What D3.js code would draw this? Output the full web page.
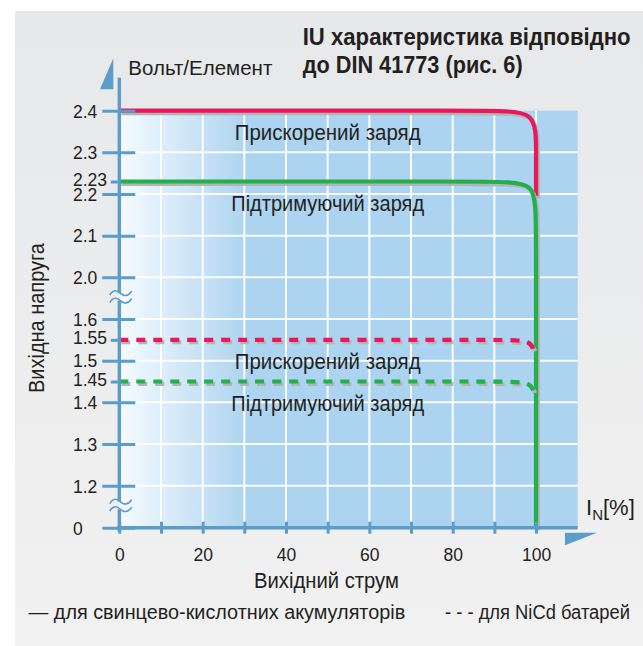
<!DOCTYPE html>
<html><head><meta charset="utf-8">
<script src="https://cdn.jsdelivr.net/npm/d3@7"></script>
<style>
body{margin:0;background:#fff}
svg{display:block}
text{font-family:"Liberation Sans",Arial,sans-serif;fill:#231f20}
</style>
</head><body>
<svg id="c" width="643" height="646"></svg>
<script>
// ---- data ----
const xTickValues = [0,10,20,30,40,50,60,70,80,90,100];
const xTickLabels = [0,20,40,60,80,100];
const yTickValues = [2.4,2.3,2.2,2.1,2.0,1.6,1.5,1.4,1.3,1.2,0];
const yTickLabels = ["2.4","2.3","2.2","2.1","2.0","1.6","1.5","1.4","1.3","1.2","0"];
const ySpecialValues = [2.23,1.55,1.45];
const ySpecialLabels = ["2.23","1.55","1.45"];
const gridYValues = [2.3,2.2,2.1,2.0,1.6,1.5,1.4,1.3,1.2];
const gridXValues = [10,20,30,40,50,60,70,80,90,100];
const yBreaks = [[1.6,2.0],[0,1.2]];
const leadBoostX = [0,90.5,100,100,100],  leadBoostY = [2.4,2.4,2.4,2.305,2.195];
const leadFloatX = [0,90.5,100,100,100],  leadFloatY = [2.23,2.23,2.23,2.135,0];
const nicdBoostX = [0,92,99,99.6],        nicdBoostY = [1.55,1.55,1.55,1.515];
const nicdFloatX = [0,92,99,99.6],        nicdFloatY = [1.45,1.45,1.45,1.415];
const curveLabels = ["Прискорений заряд","Підтримуючий заряд","Прискорений заряд","Підтримуючий заряд"];
const curveLabelAt = [2.4,2.23,1.55,1.45];
const titleLines = ["IU характеристика відповідно","до DIN 41773 (рис. 6)"];
const yTitle = "Вихідна напруга", yUnit = "Вольт/Елемент";
const xTitle = "Вихідний струм";
const legendItems = ["— для свинцево-кислотних акумуляторів","- - - для NiCd батарей"];

// ---- layout ----
const RED="#e8185a", GREEN="#22b04c", AX="#5b9cc9", SH="#b4b4b6";
const svg = d3.select("#c");
const x = d3.scaleLinear().domain([0,110]).range([119.3,577.7]);
const y = d3.scaleLinear().domain([0,1.2,1.6,2.0,2.4]).range([527.7,485.7,319,277.3,110.7]);

// text helper: place at (tx,ty) and compress horizontally to a target width
function fitText(parent, str, tx, ty, size, width, opts={}){
  const t = parent.append("text").attr("x",0).attr("y",0).attr("font-size",size).text(str);
  if (opts.bold) t.attr("font-weight","bold");
  if (opts.anchor) t.attr("text-anchor",opts.anchor);
  const n = t.node().getComputedTextLength();
  const s = Math.min(1.2, width / n);
  t.attr("transform",`translate(${tx},${ty})${opts.rot?` rotate(${opts.rot})`:""} scale(${s},1)`);
  return t;
}

const defs = svg.append("defs");
const pg = defs.append("linearGradient").attr("id","panel").attr("x1",0).attr("y1",0).attr("x2",0).attr("y2",1);
pg.append("stop").attr("offset",0).attr("stop-color","#e7e8ea");
pg.append("stop").attr("offset",1).attr("stop-color","#f1f1f1");
const bg = defs.append("linearGradient").attr("id","plotbg").attr("gradientUnits","userSpaceOnUse")
  .attr("x1",x(0)).attr("x2",x(31)).attr("y1",0).attr("y2",0);
bg.append("stop").attr("offset",0).attr("stop-color","#f5fbff");
bg.append("stop").attr("offset",1).attr("stop-color","#acd3ef");

// panel
svg.append("rect").attr("x",15).attr("y",11).attr("width",628).attr("height",635).attr("fill","url(#panel)");

// plot area
svg.append("rect").attr("x",x(0)).attr("y",y(2.4)).attr("width",x(110)-x(0)).attr("height",y(0)-y(2.4))
  .attr("fill","url(#plotbg)");

// grid
const grid = svg.append("g").attr("stroke","#fff").attr("stroke-width",2).attr("opacity",0.95);
grid.selectAll(".gy").data(gridYValues).join("line")
  .attr("x1",x(0)).attr("x2",x(110)).attr("y1",d=>y(d)).attr("y2",d=>y(d));
grid.selectAll(".gx").data(gridXValues).join("line")
  .attr("x1",d=>x(d)).attr("x2",d=>x(d)).attr("y1",y(2.4)).attr("y2",y(0));

// series
const line = d3.line().x(d=>x(d[0])).y(d=>y(d[1])).curve(d3.curveBasis);
const series = [
  {xs:leadBoostX, ys:leadBoostY, color:RED, dash:null},
  {xs:leadFloatX, ys:leadFloatY, color:GREEN, dash:null},
  {xs:nicdBoostX, ys:nicdBoostY, color:RED, dash:"9,8"},
  {xs:nicdFloatX, ys:nicdFloatY, color:GREEN, dash:"9,8"}
];
series.forEach(s=>{
  const pts = d3.zip(s.xs, s.ys);
  svg.append("path").attr("d",line(pts)).attr("fill","none").attr("stroke",SH).attr("stroke-width",4)
    .attr("stroke-dasharray",s.dash).attr("transform","translate(2,2.5)");
  svg.append("path").attr("d",line(pts)).attr("fill","none").attr("stroke",s.color).attr("stroke-width",4.2)
    .attr("stroke-dasharray",s.dash);
});

// curve labels
curveLabels.forEach((d,i)=>{
  fitText(svg, d, x(50), y(curveLabelAt[i])+29, 22, i%2===0?186:193, {anchor:"middle"});
});

// x axis
const xAxis = svg.append("g").attr("transform",`translate(0,${y(0)})`)
  .call(d3.axisBottom(x).tickValues(xTickValues).tickSize(6)
    .tickFormat(d=> xTickLabels.includes(d) ? d : ""));
xAxis.select(".domain").remove();
xAxis.selectAll(".tick line").attr("y1",-6).attr("y2",6).attr("stroke",AX).attr("stroke-width",3);
xAxis.selectAll(".tick text").attr("y",20.6).attr("font-size",17.5).attr("fill","#231f20")
  .attr("font-family","Liberation Sans, Arial, sans-serif");
svg.append("line").attr("x1",x(0)-2).attr("x2",x(110)).attr("y1",y(0)).attr("y2",y(0))
  .attr("stroke",AX).attr("stroke-width",3.4);

// y axis ticks
const yAxis = svg.append("g").attr("transform",`translate(${x(0)},0)`)
  .call(d3.axisLeft(y).tickValues(yTickValues).tickSize(17).tickFormat((d,i)=>yTickLabels[i]));
yAxis.select(".domain").remove();
yAxis.selectAll(".tick line").attr("x1",16).attr("x2",-17).attr("stroke",AX).attr("stroke-width",3);
yAxis.selectAll(".tick text").attr("x",-46.3).attr("text-anchor","start").attr("font-size",17.5)
  .attr("fill","#231f20").attr("font-family","Liberation Sans, Arial, sans-serif").attr("dy","0.36em");
const ySpec = svg.append("g").attr("transform",`translate(${x(0)},0)`)
  .call(d3.axisLeft(y).tickValues(ySpecialValues).tickSize(8.5).tickFormat((d,i)=>ySpecialLabels[i]));
ySpec.select(".domain").remove();
ySpec.selectAll(".tick line").attr("stroke",AX).attr("stroke-width",3);
ySpec.selectAll(".tick text").attr("x",-46.3).attr("text-anchor","start").attr("font-size",17.5)
  .attr("fill","#231f20").attr("font-family","Liberation Sans, Arial, sans-serif").attr("dy","0.2em");

// y axis line with breaks
const ax0 = x(0), yTop = y(2.4)-33, yBot = y(0)+4;
const brk = yBreaks.map(b=>(y(b[0])+y(b[1]))/2);
const segs = [[yTop, brk[0]-5],[brk[0]+2.5, brk[1]-5],[brk[1]+2.5, yBot]];
svg.selectAll(".yseg").data(segs).join("line")
  .attr("x1",ax0).attr("x2",ax0).attr("y1",d=>d[0]).attr("y2",d=>d[1])
  .attr("stroke",AX).attr("stroke-width",3.4);
brk.forEach(m=>{
  [m-5, m+2.5].forEach(c=>{
    svg.append("path")
      .attr("d",`M${ax0-9.5},${c+2} C${ax0-6},${c-4} ${ax0-2},${c-3} ${ax0+1},${c} S${ax0+8},${c+4} ${ax0+12.5},${c-2}`)
      .attr("fill","none").attr("stroke",AX).attr("stroke-width",1.6);
  });
});

// arrows
svg.append("path").attr("fill",AX)
  .attr("d",`M${ax0-19.3},${y(2.4)-21.5} L${ax0-6},${y(2.4)-52.5} L${ax0-6},${y(2.4)-21.5} Z`);
const xr = x(110), ay = y(0);
svg.append("path").attr("fill",AX)
  .attr("d",`M${xr-12.7},${ay+5} L${xr+19.3},${ay+5} L${xr-12.7},${ay+17.5} Z`);

// titles
fitText(svg, titleLines[0], 302.7, 44.5, 23.5, 328, {bold:true});
fitText(svg, titleLines[1], 302.7, 72.7, 23.5, 220, {bold:true});
fitText(svg, yUnit, 128.3, 75, 20, 144);
fitText(svg, yTitle, 44.3, 318, 22, 150, {anchor:"middle", rot:-90});
fitText(svg, xTitle, 326.5, 588.3, 22, 145, {anchor:"middle"});

// I_N[%]
const iu = svg.append("text").attr("x",586).attr("y",515).attr("font-size",22);
iu.append("tspan").text("I");
iu.append("tspan").attr("font-size",15).attr("dy",5).text("N");
iu.append("tspan").attr("dy",-5).text("[%]");

// legend
fitText(svg, legendItems[0], 28.5, 619, 21, 377);
fitText(svg, legendItems[1], 445, 619, 21, 185);
</script>
</body></html>
